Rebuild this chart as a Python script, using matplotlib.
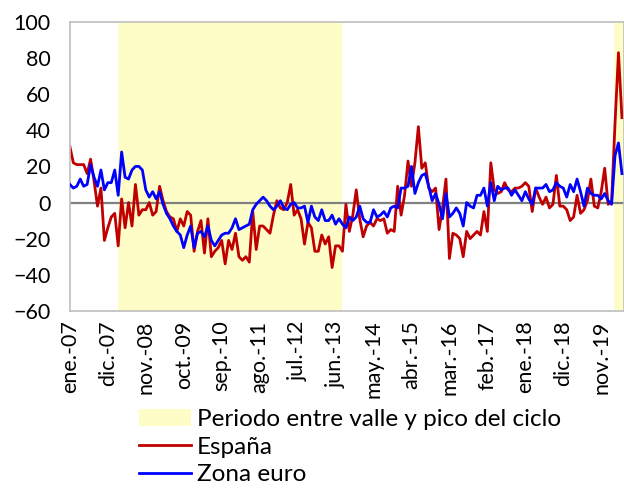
import matplotlib
matplotlib.use("Agg")
import matplotlib.pyplot as plt
from matplotlib.patches import Patch
from matplotlib.lines import Line2D

plt.rcParams['font.family'] = ['Lato', 'DejaVu Sans']

# monthly series, ene-07 .. may-20
espana = [
    31, 22, 21, 21, 21, 16, 24, 12, -2, 8,
    -21, -14, -8, -6, -24, 2, -14, 0, -13, 10,
    -7, -4, -4, 0, -7, -5, 9, 1, -5, -8,
    -9, -16, -9, -13, -5, -7, -27, -16, -10, -28,
    -9, -30, -27, -25, -21, -34, -21, -26, -17, -30,
    -32, -30, -33, -5, -26, -13, -13, -15, -17, -7,
    1, -3, -4, 0, 10, -7, -4, -9, -23, -11,
    -14, -27, -27, -18, -23, -19, -36, -24, -24, -27,
    -1, -16, -7, 7, -9, -19, -13, -11, -13, -9,
    -10, -9, -17, -15, -16, 9, -7, 4, 23, 9,
    22, 42, 19, 22, 8, 6, 8, -15, -3, 13,
    -31, -17, -18, -20, -30, -16, -20, -18, -16, -18,
    -5, -16, 22, 7, 5, 6, 11, 7, 6, 8,
    8, 9, 11, 9, -5, 8, 3, -1, 3, -3,
    -1, 15, -2, -2, -4, -10, -8, 4, -6, -4,
    1, 13, -2, -3, 6, 19, -1, 0, 44, 83,
    47,
]
zona_euro = [
    10, 8, 9, 13, 9, 10, 21, 14, 9, 18,
    7, 11, 11, 18, 4, 28, 14, 13, 18, 20,
    20, 18, 7, 3, 6, 2, 6, -1, -6, -9,
    -13, -16, -18, -25, -18, -13, -25, -17, -16, -19,
    -13, -21, -24, -21, -18, -17, -17, -14, -9, -15,
    -14, -13, -12, -4, -1, 1, 3, 1, -2, -4,
    -2, 1, -3, -4, -1, 0, -3, -3, -2, -11,
    -2, -8, -10, -4, -10, -10, -7, -12, -9, -12,
    -14, -8, -10, -8, -2, -9, -11, -11, -4, -8,
    -7, -5, -8, -3, -2, -3, 8, 8, 9, 20,
    5, 11, 15, 16, 9, 1, 5, -1, -9, 5,
    -8, -6, -3, -6, -13, 0, -2, -3, 4, 4,
    8, -2, 11, 1, 9, 7, 8, 8, 4, 7,
    4, 1, 6, 2, -1, 8, 8, 8, 10, 6,
    7, 11, 9, 8, 3, 10, 6, 13, 6, -2,
    8, 5, 4, 4, 2, 5, 1, -1, 26, 33,
    16,
]
tick_labels = ['ene.-07', 'dic.-07', 'nov.-08', 'oct.-09', 'sep.-10',
               'ago.-11', 'jul.-12', 'jun.-13', 'may.-14', 'abr.-15',
               'mar.-16', 'feb.-17', 'ene.-18', 'dic.-18', 'nov.-19']
# valle -> pico periods (month index from ene-07)
ciclo = [(13.9, 78.8), (157.7, 161)]

months = list(range(len(espana)))

fig = plt.figure(figsize=(6.24, 4.88), dpi=100)
ax = fig.add_axes([0.112, 0.363, 0.888, 0.592])

for start, end in ciclo:
    ax.axvspan(start, end, color='#fefdc8', lw=0, zorder=0)

ax.axhline(0, color='#808080', lw=1.6, zorder=1)
ax.plot(months, espana, color='#c00000', lw=2.0, zorder=2)
ax.plot(months, zona_euro, color='#0000ff', lw=2.0, zorder=3)

ax.set_xlim(0, 160.6)
ax.set_ylim(-60, 100)
ax.set_yticks(range(-60, 101, 20))
ax.set_xticks(range(0, len(espana), 11))
ax.set_xticklabels(tick_labels, rotation=90, fontsize=15.5)
ax.tick_params(axis='y', labelsize=15.5, length=0, pad=14)
ax.tick_params(axis='x', length=0, pad=7)
for s in ax.spines.values():
    s.set_color('#bfbfbf')
    s.set_linewidth(1.2)

handles = [Patch(facecolor='#fefdc8', edgecolor='none'),
           Line2D([], [], color='#c00000', lw=2),
           Line2D([], [], color='#0000ff', lw=2)]
fig.legend(handles, ['Periodo entre valle y pico del ciclo', 'España', 'Zona euro'],
           loc='upper left', bbox_to_anchor=(0.222, 0.162), frameon=False,
           fontsize=17.5, handlelength=2.15, handletextpad=0.25, labelspacing=0.27,
           borderpad=0, borderaxespad=0)

fig.savefig('out.png', dpi=100)
